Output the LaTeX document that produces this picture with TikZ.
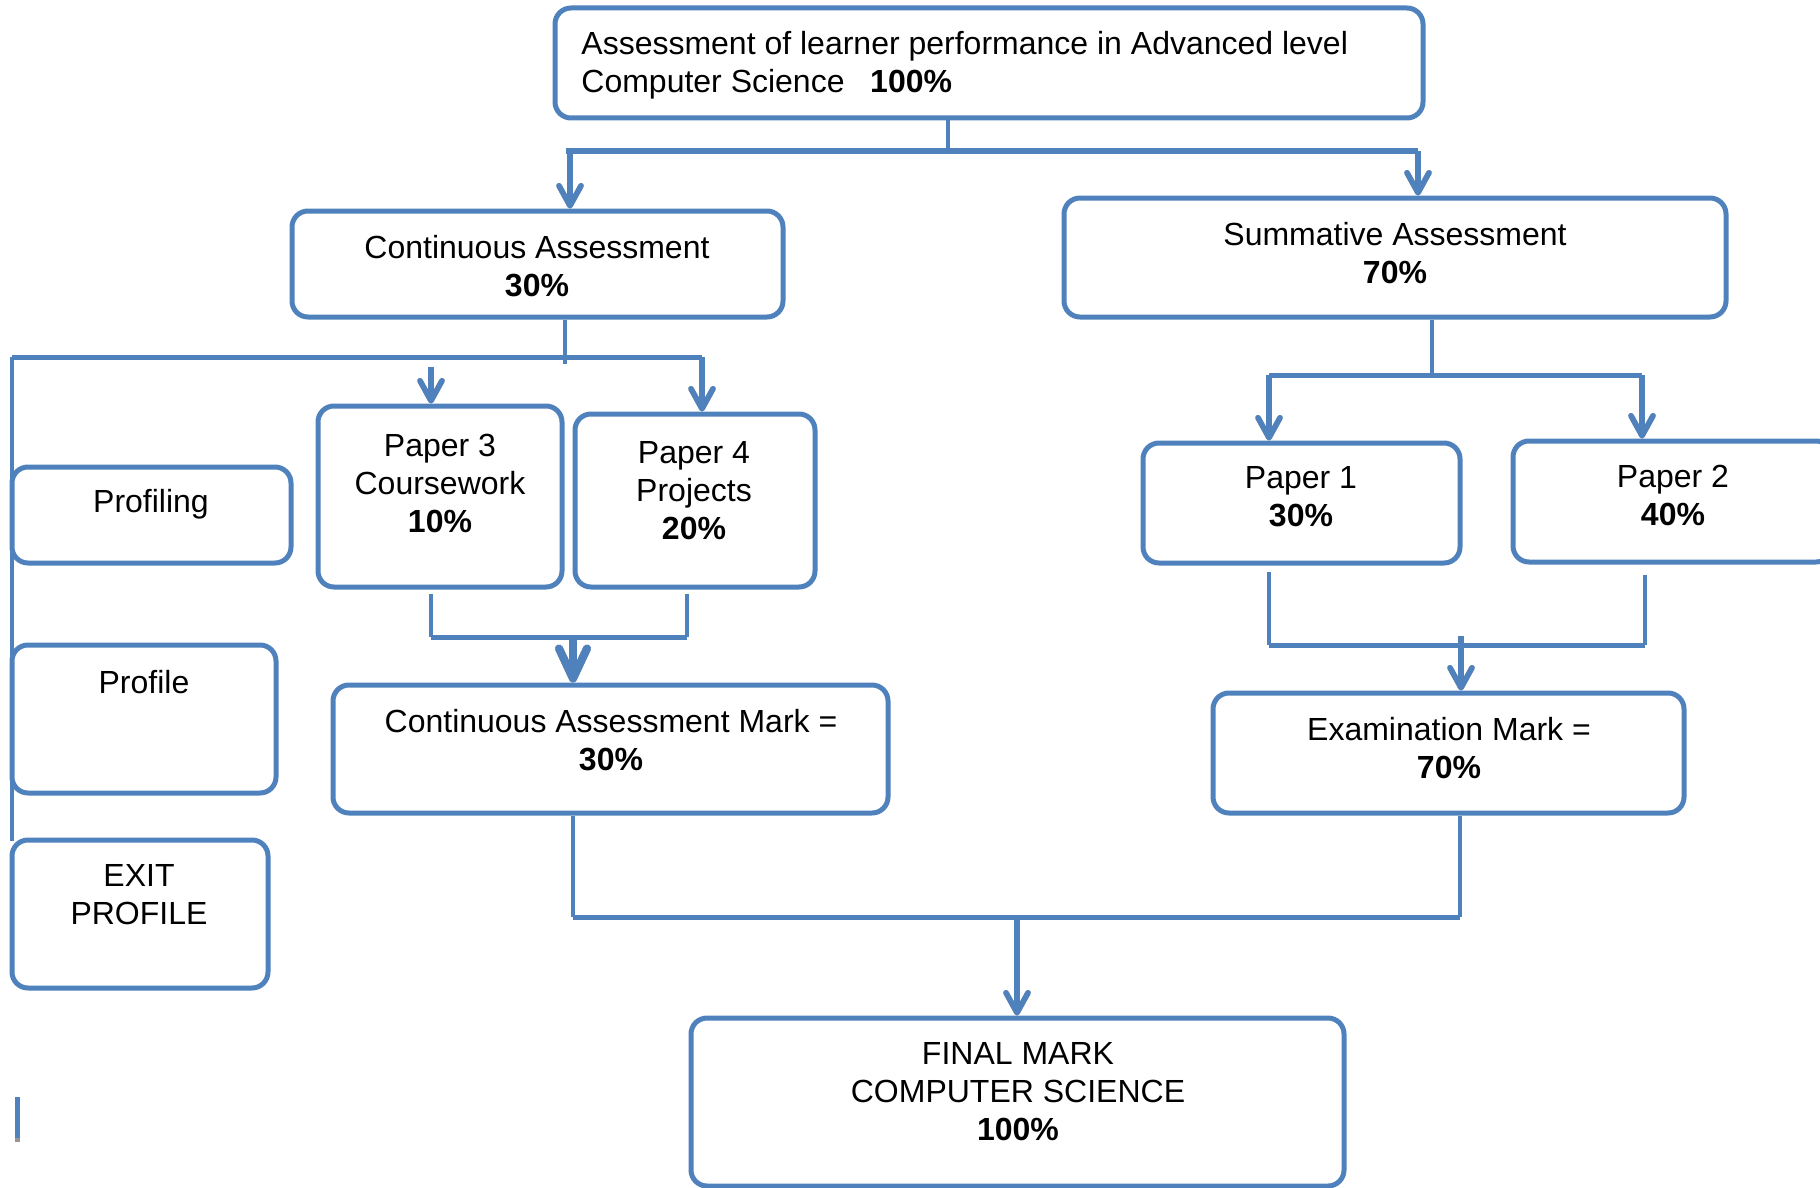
\documentclass[tikz,border=0pt]{standalone}
\usepackage{fontspec}
\setmainfont{Liberation Sans}
\usetikzlibrary{arrows.meta,fit}
\definecolor{lineblue}{RGB}{79,129,189}
\definecolor{shadowgrey}{RGB}{150,150,150}
\tikzset{
  box/.style={draw=lineblue, line width=2.5pt, rounded corners=8pt, inner sep=0pt},
  txt/.style={inner sep=0pt, align=center, font=\fontsize{16}{19}\selectfont, anchor=north},
  conn/.style={draw=lineblue, line width=2pt},
  arr/.style={draw=lineblue, line width=2.75pt, -{Straight Barb[length=10pt,width=11pt,round]}},
  arrshadow/.style={arr, draw=shadowgrey, yshift=-1.2pt, xshift=0.3pt},
  bigarr/.style={draw=lineblue, line width=4pt, -{Straight Barb[length=15pt,width=14pt,round]}},
  bigarrshadow/.style={bigarr, draw=shadowgrey, yshift=-1.5pt, xshift=0.3pt},
  bar/.style={draw=lineblue, line width=2.5pt},
  barshadow/.style={draw=shadowgrey, line width=2.5pt, yshift=-2.5pt},
}
\begin{document}
\begin{tikzpicture}[x=0.5pt,y=-0.5pt]
\useasboundingbox (0,0) rectangle (1820,1188);
\clip (0,0) rectangle (1820,1188);

% ---------- boxes ----------
\node[box, fit={(555,8) (1423,118)}] (top) {};
\node[box, fit={(292,211) (783,317)}] (ca) {};
\node[box, fit={(1064,198) (1726,317)}] (sa) {};
\node[box, fit={(318,406) (562,587)}] (p3) {};
\node[box, fit={(575,414) (815,587)}] (p4) {};
\node[box, fit={(12,467) (291,563)}] (prof) {};
\node[box, fit={(12,645) (276,793)}] (profile) {};
\node[box, fit={(12,840) (268,988)}] (exitp) {};
\node[box, fit={(1143,443) (1460,563)}] (p1) {};
\node[box, fit={(1513,441) (1832,562)}] (p2) {};
\node[box, fit={(333,685) (888,813)}] (cam) {};
\node[box, fit={(1213,693) (1684,813)}] (em) {};
\node[box, fit={(691,1018) (1344,1186)}] (fin) {};

% ---------- texts ----------
\node[txt, anchor=north west, align=left] (topT) at (581,31)
  {Assessment of learner performance in Advanced level\\Computer Science\hspace{0.8em}\textbf{100\%}};
\node[txt] (caT) at (537,235) {Continuous Assessment\\\textbf{30\%}};
\node[txt] (saT) at (1395,222) {Summative Assessment\\\textbf{70\%}};
\node[txt] (p3T) at (440,434) {Paper 3\\Coursework\\\textbf{10\%}};
\node[txt] (p4T) at (694,441) {Paper 4\\Projects\\\textbf{20\%}};
\node[txt] (profT) at (151,489) {Profiling};
\node[txt] (profileT) at (144,670) {Profile};
\node[txt] (exitT) at (139,864) {EXIT\\PROFILE};
\node[txt] (p1T) at (1301,466) {Paper 1\\\textbf{30\%}};
\node[txt] (p2T) at (1673,465) {Paper 2\\\textbf{40\%}};
\node[txt] (camT) at (611,709) {Continuous Assessment Mark =\\\textbf{30\%}};
\node[txt] (emT) at (1449,717) {Examination Mark =\\\textbf{70\%}};
\node[txt] (finT) at (1018,1042) {FINAL MARK\\COMPUTER SCIENCE\\\textbf{100\%}};

% ---------- coordinates ----------
\coordinate (tj) at (948,151);
\coordinate (tbL) at (566,151);
\coordinate (tbR) at (1418,151);
\coordinate (aCA) at (570,151);

\coordinate (cj) at (565,364);
\coordinate (cbL) at (12,357);
\coordinate (cbR) at (702,357);
\coordinate (lvEnd) at (12,841);
\coordinate (a3) at (431,367);

\coordinate (m3) at (431,594);
\coordinate (m4) at (687,594);
\coordinate (mb3) at (431,637);
\coordinate (mb4) at (687,637);
\coordinate (mcam) at (573,637);

\coordinate (sj) at (1432,375);
\coordinate (sbL) at (1269,375);
\coordinate (sbR) at (1642,375);

\coordinate (n1) at (1269,572);
\coordinate (n2) at (1645,575);
\coordinate (nb1) at (1269,645);
\coordinate (nb2) at (1645,645);
\coordinate (nem) at (1461,636);

\coordinate (fL) at (573,917);
\coordinate (fR) at (1460,917);
\coordinate (ffin) at (1017,917);

\coordinate (mk1) at (17.5,1097);
\coordinate (mk2) at (17.5,1138);

% ---------- shadows ----------
\draw[barshadow] (tbL) -- (tbR);
\draw[barshadow] (cbL) -- (cbR);
\draw[barshadow] (mb3) -- (mb4);
\draw[barshadow] (sbL) -- (sbR);
\draw[barshadow] (nb1) -- (nb2);
\draw[barshadow] (fL) -- (fR);
\draw[arrshadow] (aCA) -- (aCA |- ca.north);
\draw[arrshadow] (tbR) -- (tbR |- sa.north);
\draw[arrshadow] (a3) -- (a3 |- p3.north);
\draw[arrshadow] (cbR) -- (cbR |- p4.north);
\draw[bigarrshadow] (mcam) -- (mcam |- cam.north);
\draw[arrshadow] (sbL) -- (sbL |- p1.north);
\draw[arrshadow] (sbR) -- (sbR |- p2.north);
\draw[arrshadow] (nem) -- (nem |- em.north);
\draw[arrshadow] (ffin) -- (ffin |- fin.north);
\draw[draw=shadowgrey, line width=2.5pt] (mk2) -- ++(0,4);

% ---------- top level ----------
\draw[conn] (tj |- top.south) -- (tj);
\draw[bar] (tbL) -- (tbR);
\draw[arr] (aCA) -- (aCA |- ca.north);
\draw[arr] (tbR) -- (tbR |- sa.north);

% ---------- continuous assessment branch ----------
\draw[conn] (ca.south -| cj) -- (cj);
\draw[bar] (cbL) -- (cbR);
\draw[conn] (cbL) -- (lvEnd);
\draw[arr] (a3) -- (a3 |- p3.north);
\draw[arr] (cbR) -- (cbR |- p4.north);

\draw[conn] (m3) -- (mb3);
\draw[conn] (m4) -- (mb4);
\draw[bar] (mb3) -- (mb4);
\draw[bigarr] (mcam) -- (mcam |- cam.north);

% ---------- summative branch ----------
\draw[conn] (sa.south -| sj) -- (sj);
\draw[bar] (sbL) -- (sbR);
\draw[arr] (sbL) -- (sbL |- p1.north);
\draw[arr] (sbR) -- (sbR |- p2.north);

\draw[conn] (n1) -- (nb1);
\draw[conn] (n2) -- (nb2);
\draw[bar] (nb1) -- (nb2);
\draw[arr] (nem) -- (nem |- em.north);

% ---------- final ----------
\draw[conn] (cam.south -| fL) -- (fL);
\draw[conn] (em.south -| fR) -- (fR);
\draw[bar] (fL) -- (fR);
\draw[arr] (ffin) -- (ffin |- fin.north);

% ---------- small mark ----------
\draw[conn, line width=2.5pt] (mk1) -- (mk2);
\end{tikzpicture}
\end{document}
